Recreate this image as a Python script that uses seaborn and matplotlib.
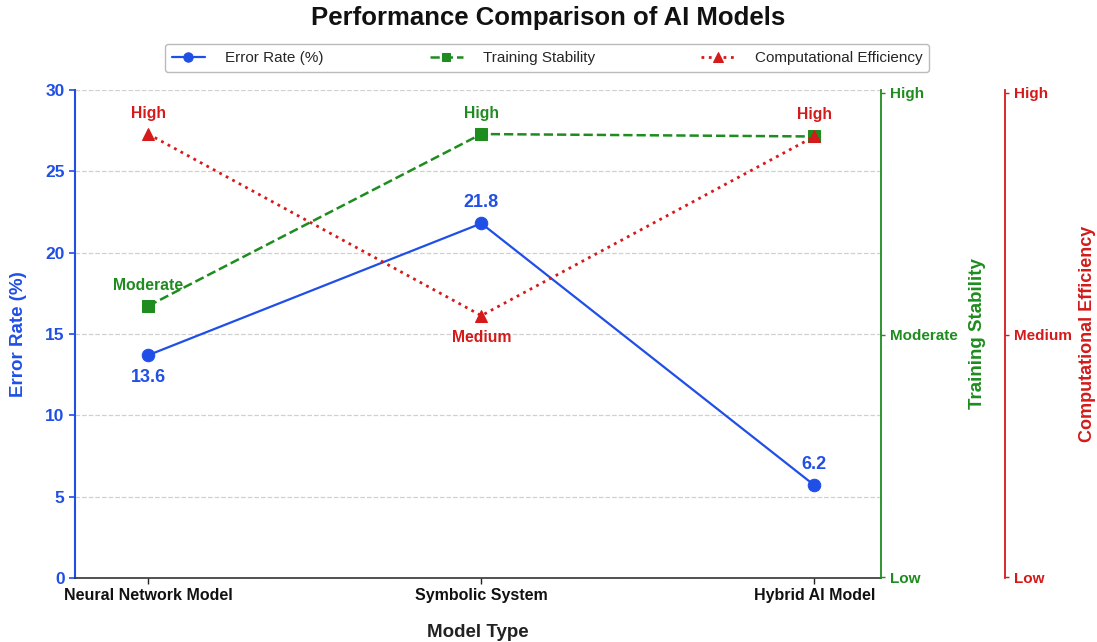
import matplotlib
matplotlib.use("Agg")
import matplotlib.pyplot as plt
import seaborn as sns
import pandas as pd

# ---- data ----
models = ["Neural Network Model", "Symbolic System", "Hybrid AI Model"]
error_rate = [13.7, 21.8, 5.7]
error_labels = ["13.6", "21.8", "6.2"]
stability = [2.12, 2.83, 2.82]
stability_labels = ["Moderate", "High", ""]
efficiency = [2.83, 2.08, 2.82]
efficiency_labels = ["High", "Medium", "High"]
stability_levels = ["Low", "Moderate", "High"]
efficiency_levels = ["Low", "Medium", "High"]
error_ticks = [0, 5, 10, 15, 20, 25, 30]

BLUE = "#1f4fe6"
GREEN = "#1e8c1e"
RED = "#d41a1a"

sns.set_theme(style="white")
plt.rcParams["font.family"] = ["Liberation Sans", "DejaVu Sans"]

df = pd.DataFrame({"model": models, "error": error_rate,
                   "stab": stability, "eff": efficiency})

fig = plt.figure(figsize=(10.97, 6.42), dpi=100)
ax = fig.add_axes([75 / 1097, 1 - 578 / 642, 806 / 1097, 488 / 642])
ax2 = ax.twinx()
ax3 = ax.twinx()

sns.lineplot(data=df, x="model", y="error", ax=ax, color=BLUE, marker="o",
             markersize=9, linewidth=1.6, markeredgecolor=BLUE,
             label="Error Rate (%)", legend=False, sort=False)
sns.lineplot(data=df, x="model", y="stab", ax=ax2, color=GREEN, marker="s",
             markersize=8, linewidth=1.8, linestyle="--", markeredgecolor=GREEN,
             label="Training Stability", legend=False, sort=False)
sns.lineplot(data=df, x="model", y="eff", ax=ax3, color=RED, marker="^",
             markersize=9, linewidth=2.0, linestyle=":", markeredgecolor=RED,
             label="Computational Efficiency", legend=False, sort=False)

ax.set_xlim(-0.22, 2.2)
ax.set_ylim(0, 30)
ax.set_yticks(error_ticks)
ax2.set_ylim(0.996, 3.012)
ax3.set_ylim(0.996, 3.012)
ax2.set_yticks([1, 2, 3])
ax2.set_yticklabels(stability_levels)
ax3.set_yticks([1, 2, 3])
ax3.set_yticklabels(efficiency_levels)

ax.yaxis.grid(True, linestyle="--", color="#d0d0d0", linewidth=0.9)
ax.xaxis.grid(False)

# spines
for a in (ax, ax2, ax3):
    a.spines["top"].set_visible(False)
ax.spines["left"].set_color(BLUE)
ax.spines["left"].set_linewidth(1.5)
ax.spines["bottom"].set_color("#333333")
ax.spines["bottom"].set_linewidth(1.2)
ax.spines["right"].set_visible(False)
ax2.spines["left"].set_visible(False)
ax2.spines["bottom"].set_visible(False)
ax2.spines["right"].set_color(GREEN)
ax2.spines["right"].set_linewidth(1.3)
ax3.spines["left"].set_visible(False)
ax3.spines["bottom"].set_visible(False)
ax3.spines["right"].set_position(("axes", 1.154))
ax3.spines["right"].set_color(RED)
ax3.spines["right"].set_linewidth(1.3)

ax.tick_params(axis="y", colors=BLUE, labelsize=12.5, length=4, width=1.2, left=True)
ax.tick_params(axis="x", colors="#222222", labelsize=11.5, length=4, width=1, bottom=True)
ax2.tick_params(axis="y", colors=GREEN, labelsize=11, length=3, width=1, right=True)
ax3.tick_params(axis="y", colors=RED, labelsize=11, length=3, width=1, right=True)
for lab in ax.get_yticklabels() + ax.get_xticklabels() + ax2.get_yticklabels() + ax3.get_yticklabels():
    lab.set_fontweight("bold")
for lab in ax.get_xticklabels():
    lab.set_color("#111111")

ax.set_xlabel("Model Type", fontsize=13.5, fontweight="bold", color="#222222", labelpad=15)
ax.set_ylabel("Error Rate (%)", fontsize=13.5, fontweight="bold", color=BLUE, labelpad=13)
ax2.set_ylabel("Training Stability", fontsize=13.5, fontweight="bold", color=GREEN, labelpad=8)
ax3.set_ylabel("Computational Efficiency", fontsize=13, fontweight="bold", color=RED, labelpad=5)

# annotations
err_off = [-16, 15, 15]
for i, (v, t) in enumerate(zip(error_rate, error_labels)):
    ax.annotate(t, (i, v), xytext=(0, err_off[i]), textcoords="offset points",
                ha="center", va="center", fontsize=13, fontweight="bold", color=BLUE)
for i, (v, t) in enumerate(zip(stability, stability_labels)):
    if t:
        ax2.annotate(t, (i, v), xytext=(0, 15), textcoords="offset points",
                     ha="center", va="center", fontsize=11.3, fontweight="bold", color=GREEN)
eff_off = [15, -16, 16]
for i, (v, t) in enumerate(zip(efficiency, efficiency_labels)):
    ax3.annotate(t, (i, v), xytext=(0, eff_off[i]), textcoords="offset points",
                 ha="center", va="center", fontsize=11.3, fontweight="bold", color=RED)

fig.suptitle("Performance Comparison of AI Models", fontsize=18.5, fontweight="bold",
             x=0.5, y=1 - 18 / 642, va="center", color="#111111")

handles = []
labels = []
for a in (ax, ax2, ax3):
    h, l = a.get_legend_handles_labels()
    handles += h
    labels += l
leg = fig.legend(handles, labels, loc="center", ncol=3, mode="expand",
                 bbox_to_anchor=(157 / 1097, 1 - 73 / 642, 780 / 1097, 30 / 642),
                 fontsize=11, frameon=True, fancybox=True, edgecolor="#aaaaaa",
                 borderpad=0.45, handlelength=2.2, handletextpad=1.3, markerscale=0.75)
leg.get_frame().set_linewidth(1.0)

fig.savefig("out.png", dpi=100)
